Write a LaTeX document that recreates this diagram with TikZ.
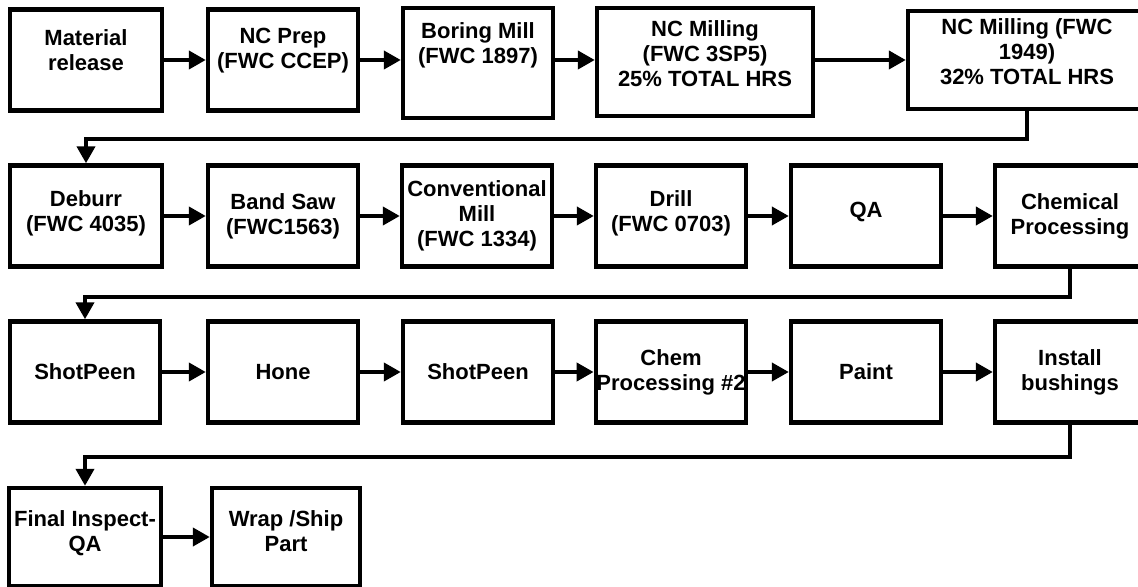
\documentclass[tikz,border=0pt]{standalone}
\usepackage{fontspec}
\setmainfont{Liberation Sans}
\usetikzlibrary{arrows.meta}

\begin{document}
\begin{tikzpicture}[x=0.5pt, y=-0.5pt,
    font=\fontsize{11}{12.5}\selectfont\bfseries,
    >={Triangle[length=8.5pt,width=9pt]},
    stage/.style={draw, line width=2.2pt, align=center, inner sep=0.3pt,
      minimum width=#1, minimum height=50.5pt},
    stage/.default=75pt,
    high/.style={text depth=#1},
    flow/.style={->, line width=2pt}]
    \clip (0,0) rectangle (1138,587);
    % row 1
    \node[stage=76pt, high=10pt] (mat) at (86,60) {Material\\release};
    \node[stage, high=12pt] (prep) at (283,60) {NC Prep\\(FWC CCEP)};
    \node[stage, minimum height=55pt, high=20pt] (bore) at (478,63) {Boring Mill\\(FWC 1897)};
    \node[stage=108pt, minimum height=54pt, high=8pt] (mill1) at (705,62) {NC Milling\\(FWC 3SP5)\\25\% TOTAL HRS};
    \node[stage=119pt, minimum height=49pt, high=8pt] (mill2) at (1027,60) {NC Milling (FWC\\1949)\\32\% TOTAL HRS};
    % row 2
    \node[stage=76pt, high=5pt] (deburr) at (86,216) {Deburr\\(FWC 4035)};
    \node[stage] (saw) at (283,216) {Band Saw\\(FWC1563)};
    \node[stage] (conv) at (477,216) {Conventional\\Mill\\(FWC 1334)};
    \node[stage, high=5pt] (drill) at (671,216) {Drill\\(FWC 0703)};
    \node[stage, high=6pt] (qa) at (866,216) {QA};
    \node[stage] (chem) at (1070,216) {Chemical\\Processing};
    % row 3
    \node[stage] (peen1) at (85,372) {ShotPeen};
    \node[stage] (hone) at (283,372) {Hone};
    \node[stage] (peen2) at (478,372) {ShotPeen};
    \node[stage] (chem2) at (671,372) {Chem\\Processing \#2};
    \node[stage] (paint) at (866,372) {Paint};
    \node[stage] (bush) at (1070,372) {Install\\bushings};
    % row 4
    \node[stage=76pt, minimum height=49pt, high=6pt] (final) at (85,537) {Final Inspect-\\QA};
    \node[stage=74pt, minimum height=49pt, high=6pt] (wrap) at (286,537) {Wrap /Ship\\Part};
    % arrows along the rows
    \draw[flow] (mat) -- (prep);
    \draw[flow] (prep) -- (bore.west |- prep);
    \draw[flow] (bore.east |- prep) -- (mill1.west |- prep);
    \draw[flow] (mill1.east |- prep) -- (mill2.west |- prep);
    \draw[flow] (deburr) -- (saw);
    \draw[flow] (saw) -- (conv);
    \draw[flow] (conv) -- (drill);
    \draw[flow] (drill) -- (qa);
    \draw[flow] (qa) -- (chem);
    \draw[flow] (peen1) -- (hone);
    \draw[flow] (hone) -- (peen2);
    \draw[flow] (peen2) -- (chem2);
    \draw[flow] (chem2) -- (paint);
    \draw[flow] (paint) -- (bush);
    \draw[flow] (final) -- (wrap);
    % returns to the next row
    \draw[flow] (mill2.south) -- ++(0,28) -| (deburr.north);
    \draw[flow] (chem.south) -- ++(0,28) -| (peen1.north);
    \draw[flow] (bush.south) -- ++(0,32) -| (final.north);
  \end{tikzpicture}
\end{document}
